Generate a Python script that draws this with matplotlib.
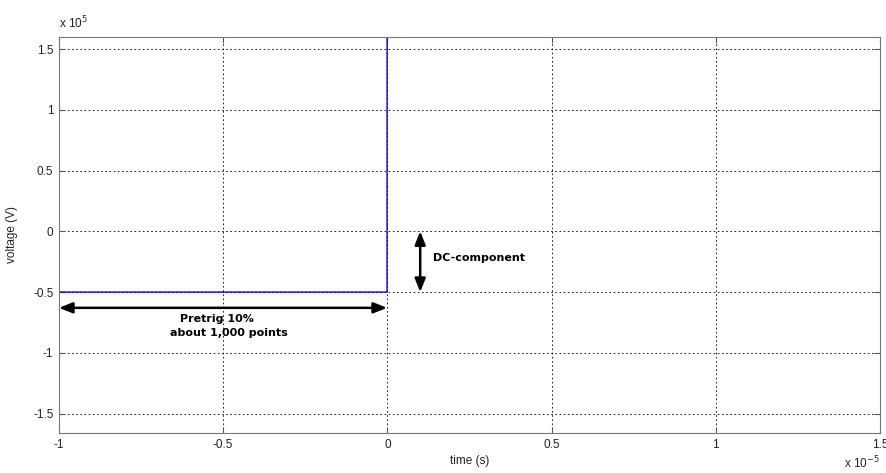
import matplotlib
matplotlib.use('Agg')
import matplotlib.pyplot as plt
from matplotlib.ticker import FuncFormatter

# signal: flat pretrigger level, then a jump far above the visible range
time = [-1e-5, -0.01e-6, 0.0, 1.5e-5]
voltage = [-0.5e5, -0.5e5, 10e5, 10e5]

xticks = [-1e-5, -0.5e-5, 0, 0.5e-5, 1e-5, 1.5e-5]
yticks = [-1.5e5, -1e5, -0.5e5, 0, 0.5e5, 1e5, 1.5e5]

plt.rcParams['font.family'] = ['Liberation Sans', 'DejaVu Sans']

fig = plt.figure(figsize=(8.87, 4.73), dpi=100)
ax = fig.add_axes([0.0665, 0.0846, 0.9255, 0.8374])

ax.plot(time, voltage, color='#0000ff', lw=1.0)

ax.set_xlim(-1e-5, 1.5e-5)
ax.set_ylim(-1.66e5, 1.6e5)
ax.set_xticks(xticks)
ax.set_yticks(yticks)

def fmt(v):
    return '%g' % v

ax.xaxis.set_major_formatter(FuncFormatter(lambda v, p: fmt(round(v / 1e-5, 3))))
ax.yaxis.set_major_formatter(FuncFormatter(lambda v, p: fmt(round(v / 1e5, 3))))

ax.grid(True, color='black', linestyle=(0, (2, 3)), linewidth=0.6)
ax.tick_params(direction='in', top=True, right=True, labelsize=8.5, length=4,
               color='#555555', labelcolor='#222222', pad=4)
for sp in ax.spines.values():
    sp.set_color('#777777')
    sp.set_linewidth(0.8)

ax.set_xlabel('time (s)', fontsize=8.5, color='#222222', labelpad=3)
ax.set_ylabel('voltage (V)', fontsize=8.5, color='#222222', labelpad=11)

ax.text(0.0, 1.015, r'x 10$^5$', transform=ax.transAxes, fontsize=8.5,
        color='#222222', ha='left', va='bottom')
ax.text(1.0, -0.055, r'x 10$^{-5}$', transform=ax.transAxes, fontsize=8.5,
        color='#222222', ha='right', va='top')

# annotations
arrow = dict(arrowstyle='<|-|>,head_length=0.8,head_width=0.32', color='black',
             lw=1.8, shrinkA=0, shrinkB=0)
ax.annotate('', xy=(-1e-5, -0.63e5), xytext=(-0.01e-6, -0.63e5), arrowprops=arrow)
ax.annotate('', xy=(0.1e-5, 0), xytext=(0.1e-5, -0.5e5), arrowprops=arrow)

bold = dict(fontsize=8, family='DejaVu Sans', fontweight='bold', va='center')
ax.text(-0.52e-5, -0.72e5, 'Pretrig 10%', ha='center', **bold)
ax.text(-0.483e-5, -0.84e5, 'about 1,000 points', ha='center', **bold)
ax.text(0.14e-5, -0.22e5, 'DC-component', ha='left', **bold)

fig.savefig('out.png', dpi=100)
